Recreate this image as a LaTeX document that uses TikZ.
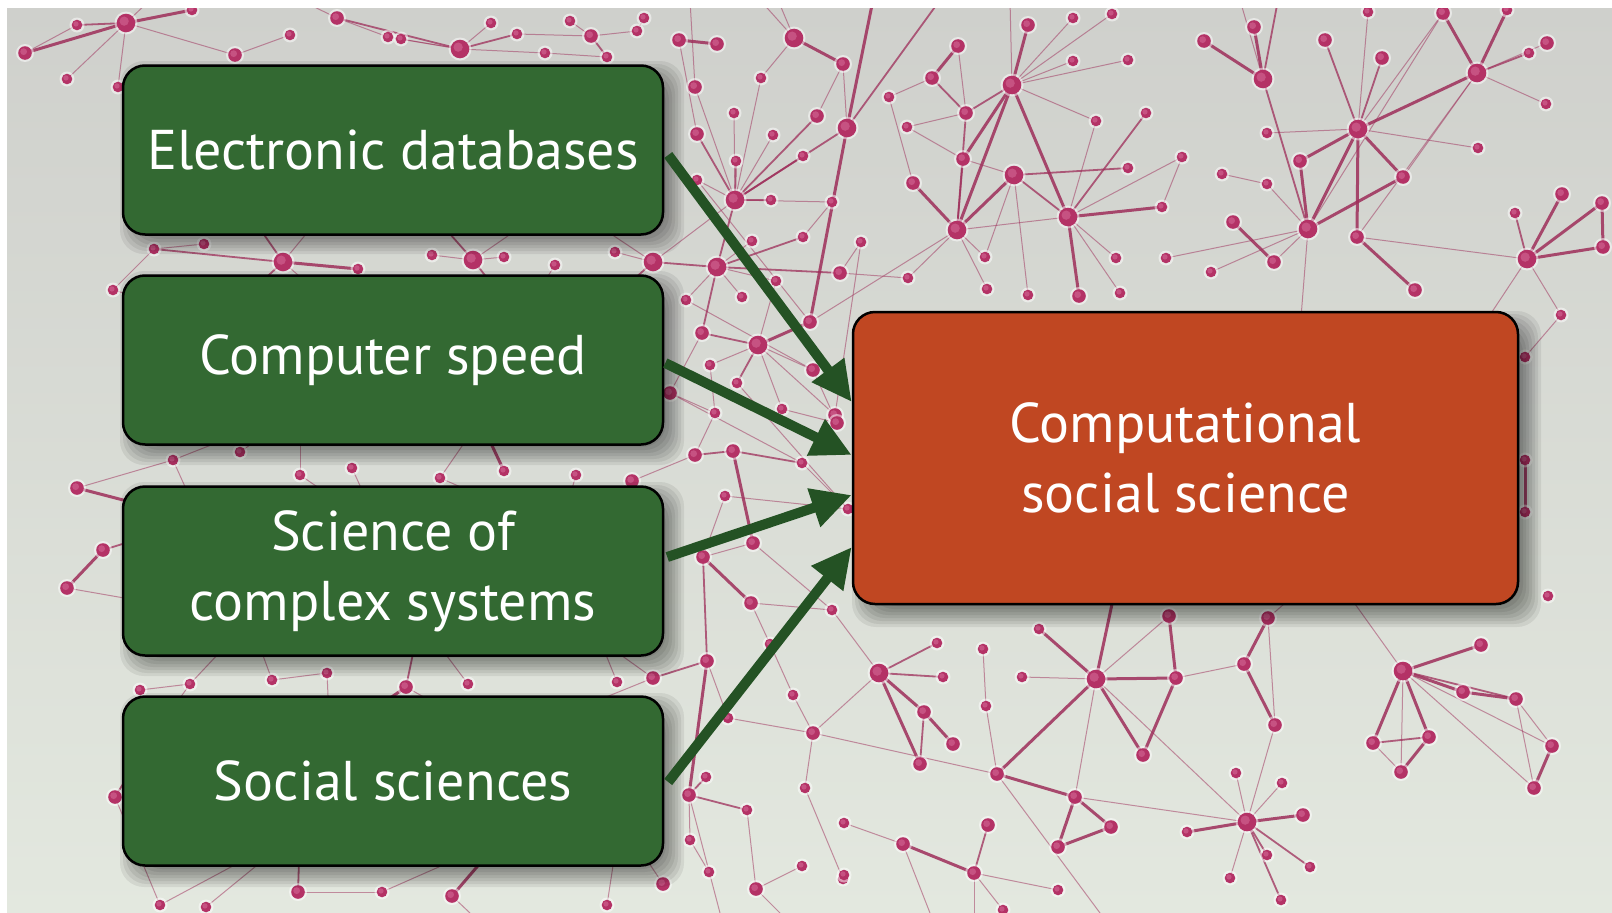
\documentclass[tikz,border=0pt]{standalone}
\usepackage{fontspec}
\setmainfont{PT Sans}
\usetikzlibrary{arrows.meta}

\definecolor{bgtop}{RGB}{207,208,204}
\definecolor{bgbot}{RGB}{227,232,223}
\definecolor{netedge}{RGB}{158,46,90}
\definecolor{netdot}{RGB}{180,50,102}
\definecolor{netdotlight}{RGB}{206,96,142}
\definecolor{boxgreen}{RGB}{51,105,50}
\definecolor{boxorange}{RGB}{192,71,34}
\definecolor{arrowgreen}{RGB}{36,82,36}

\newcommand\boxfont{\fontsize{56}{70}\selectfont}

% soft drop shadow under a rounded box: corners (#1,#2)-(#3,#4), offset #5
\newcommand\castshadow[5]{%
  \foreach \k in {-12,-9,...,12}{%
    \fill[black,opacity=0.07,rounded corners=24pt]
      ({#1+#5+\k},{#2+#5+\k}) rectangle ({#3+#5-\k},{#4+#5-\k});}}

% network dots: name/x/y/size class
\def\netnodes{
a1/126/23/3, a2/77/25/1, a3/25/53/2, a4/67/79/1, a5/118/87/1, a6/192/10/1, a7/235/55/2, a8/290/35/1, a9/337/18/2, a10/388/37/1, a11/460/49/3, a12/401/39/1, a13/517/34/1, a14/545/53/1, a15/591/36/2, a16/607/57/1, a17/637/31/1, a18/679/40/2, a19/717/44/2, a20/570/21/1, a21/491/23/1, a22/644/18/1,
b1/154/249/1, b2/204/244/1, b3/283/262/3, b4/358/269/1, b5/432/255/1, b6/473/260/3, b7/504/257/1, b8/555/265/1, b9/615/252/1, b10/653/262/3, b11/113/290/1,
c1/173/460/1, c2/77/488/2, c3/300/475/1, c4/352/468/1, c5/440/478/1, c6/504/471/1, c7/576/475/1, c8/632/481/2, c9/240/452/1,
d1/103/550/2, d2/67/588/2,
e1/190/684/1, e2/272/680/1, e3/327/673/1, e4/406/687/2, e5/468/684/1, e6/617/682/1, e7/653/678/2, e8/140/690/1,
f1/115/797/2,
g1/206/907/1, g2/298/892/2, g3/382/892/1, g4/452/896/2, g5/607/905/1, g6/663/884/2, g7/160/905/1,
r1/695/87/2, r2/761/78/1, r3/734/113/1, r4/697/134/2, r5/773/135/1, r6/817/116/2, r7/803/156/1, r8/736/161/1, r9/847/128/3, r10/843/64/2, r11/794/38/3, r12/735/200/3, r13/771/200/1, r14/832/202/1, r15/697/180/1, r17/717/267/3, r18/752/241/1, r19/803/237/1, r20/861/242/1, r21/840/273/2, r22/776/281/1, r23/742/297/1, r24/686/300/1, r25/908/278/1, r26/810/322/2, r27/702/333/2, r28/758/345/3, r29/710/365/1, r30/813/370/2, r31/737/383/1, r32/670/393/2, r33/715/413/1, r34/782/409/1, r35/835/415/2, r36/695/455/2, r37/733/451/2, r38/802/463/1, r39/837/423/2, r40/725/496/1, r41/848/509/1, r42/753/543/2, r43/703/557/2, r44/751/603/2, r45/832/610/1, r46/707/661/2, r48/770/644/1, r49/793/695/1, r50/728/718/1, r51/813/733/2, r52/706/777/1, r53/689/795/2, r54/805/788/1, r55/747/810/1, r56/709/872/1, r57/756/889/2, r58/802/866/1, r59/843/879/1, r60/690/840/1,
s1/889/97/1, s2/907/127/1, s3/913/183/2, s4/932/78/2, s5/958/46/2, s6/966/113/2, s7/963/159/2, s8/957/230/3, s9/1012/85/3, s10/1028/25/2, s11/1073/18/1, s12/1112/14/1, s13/1073/61/1, s14/1128/60/1, s15/1096/121/1, s16/1146/113/1, s17/1014/175/3, s18/1128/168/1, s19/1068/217/3, s20/1162/207/1, s21/985/257/1, s22/1116/258/1, s23/987/289/1, s24/1028/295/1, s25/1079/296/2, s26/1120/293/1, s27/1182/157/1,
q1/1254/27/2, q2/1263/79/3, q3/1204/41/2, q4/1267/133/1, q5/1358/129/3, q6/1325/40/2, q7/1382/58/2, q8/1368/12/1, q9/1443/13/2, q10/1477/73/3, q11/1507/10/1, q12/1529/53/1, q13/1547/43/2, q14/1546/104/1, q15/1478/148/1, q16/1300/161/2, q17/1403/177/2, q18/1222/174/1, q19/1267/184/1, q20/1308/229/3, q21/1357/237/2, q22/1233/222/2, q23/1274/262/2, q24/1166/258/1, q25/1211/272/1, q26/1415/290/2, q27/1527/259/3, q28/1515/213/1, q29/1562/194/2, q30/1602/203/2, q31/1603/247/2, q32/1561/315/1,
p1/1525/357/1, p2/1525/460/1, p3/1525/512/1, p4/1548/596/1,
v1/879/673/3, v2/937/643/1, v3/943/677/1, v4/924/712/2, v5/953/744/2, v6/920/764/2, v7/983/649/1, v8/986/706/1, v9/997/774/2, v10/1039/629/1, v11/1096/679/3, v12/1022/677/1, v13/1169/616/2, v14/1176/678/2, v15/1244/664/2, v16/1143/755/2, v17/1075/797/2, v18/1111/827/2, v19/1058/847/2, v20/1236/773/1, v21/1247/822/3, v22/1187/832/1, v23/1230/878/1, v24/844/823/1, v25/903/844/2, v26/988/825/2, v27/974/873/2, v28/1058/890/1, v29/844/875/1, v30/1003/910/1,
w1/1268/618/2, w2/1275/725/2, w3/1403/671/3, w4/1481/645/2, w5/1463/692/2, w6/1516/699/2, w7/1552/746/2, w8/1534/788/2, w9/1373/743/2, w10/1429/737/2, w11/1401/772/2, w12/1282/783/1, w13/1303/815/2, w14/1267/855/1, w15/1310/867/1, w16/1281/900/1}

% end points hidden under the boxes or outside the frame
\def\netanchors{
u1/240/200, u2/330/205, u3/220/320, u4/350/320, u5/420/200, u6/520/320, u7/560/200, u8/600/310, u9/150/200, u10/300/410, u11/200/520, u12/380/530, u13/480/420, u14/560/530, u15/250/620, u16/420/620, u17/150/740, u18/330/740, u19/500/740, u20/600/640, u21/300/830, u22/500/840, u23/620/820,
o1/1115/590, o2/1345/590, o3/1300/590, o4/1300/330, o5/1480/330,
t1/760/0, t2/690/0, t3/873/0, t4/940/0, t5/1010/0, t6/1240/0, t7/1278/0, t8/150/0, t9/300/0, t10/778/0,
bt1/1100/913, bt2/974/913, bt3/930/913, bt4/470/913, bt5/720/913, bt6/780/913}

\def\edgesthick{a1/a3, a1/a6, a18/a19, r11/r10, r9/t3, r9/r26, r28/r26, r37/r42, r43/r44, r46/r53, s3/s8, s4/s5, s7/s9, s8/s9, s8/s17, s9/s10, s9/s19, s19/s25, s19/s20, q2/q1, q2/q3, q5/q16, q5/q10, q5/q17, q5/q20, q5/q21, q9/q10, q10/q11, q17/q20, q22/q23, q21/q26, q27/q29, q27/q30, q27/q31, q30/q31, q16/q20, p2/p3, v1/v4, v1/v6, v4/v5, v10/v11, v11/v14, v11/o1, v11/v16, v11/v9, v13/v14, v14/v16, v9/v17, v17/v18, v17/v19, v19/v18, v25/v27, w1/v15, v15/w2, w3/w4, w3/w5, w5/w6, w3/w9, w3/w10, w10/w11, w7/w8, v21/v22, v21/w13, b3/b4, c6/u13, d1/d2, e4/u18, g4/u22, c2/u11}

\def\edgesmed{a1/a2, a9/a11, a11/a13, a15/a16, r9/t4, r9/r12, r12/r4, r12/r8, r12/r7, r12/r6, r12/r13, r12/r17, r17/b10, r17/r19, r17/r21, r17/r27, r28/r27, r28/r31, r36/r37, r37/r38, r43/r46, r46/e7, r52/r53, r53/r55, s4/s6, s6/s9, s6/s8, s7/s8, s17/s18, s17/s19, s19/s16, q2/t7, q2/q20, q6/q5, q7/q5, q10/q12, q27/q28, v1/v2, v1/v3, v4/v6, v26/v27, w3/w6, w9/w10, v21/w14, v21/w15, v21/w16, b3/b1, b3/u1, b3/u3, b6/u5, b6/u6, b10/u8, d1/u11, e4/u16, f1/u17, g2/u21}

\def\edgesthin{a1/a4, a1/a5, a1/a7, a7/a8, a9/a10, a10/a11, a11/a12, a11/a14, a11/a21, a13/a15, a15/a17, a15/a20, a17/a22, a16/a14, a1/t8, a9/t9, r11/t1, r11/t10, r1/r12, r1/t2, r9/r10, r12/r3, r12/r5, r12/r2, r12/r15, r12/b10, r12/r14, r17/r18, r17/r23, r17/r24, r17/r22, r21/r20, r21/r25, r19/r14, r28/r29, r28/r30, r28/r34, r28/r22, r28/r35, r27/r32, r29/r33, r32/r33, r33/r36, r40/r43, r42/r43, r44/r48, r44/r45, r46/r50, r50/r51, r51/r49, r51/v1, r48/r49, r55/r57, r53/r60, r60/r56, r57/r58, r54/r59, r51/r54, r32/r38, r24/r30, r15/r26, r31/r41, r34/r39, r36/c8, r40/r41, r42/r45, r53/bt5, r57/bt6, r4/a18, r2/r11, r6/r10, r30/r39, r38/r41, r35/r20, s1/s3, s2/s7, s8/s19, s8/s21, s8/r25, s8/r26, s9/s11, s9/s12, s9/s13, s9/s14, s9/s15, s9/t5, s17/s7, s17/s21, s17/s24, s19/s22, s19/s15, s19/s27, s5/s6, s8/s23, s19/s26, s1/s4, s2/s6, q2/t6, q8/q5, q5/q4, q5/q15, q5/q9, q10/q13, q10/q14, q10/q17, q10/q21, q9/q20, q18/q19, q19/q20, q20/q23, q20/q25, q20/q24, q21/q27, q27/q32, q27/o5, q20/o4, s27/s20, p1/q32, v1/r45, v7/v8, v8/v9, v12/v11, v11/v13, v11/v17, v11/v21, v14/v15, r51/v9, v17/v21, v9/bt1, v27/v28, v27/bt2, v25/bt3, v24/v25, v30/v27, v20/v21, v21/w12, v21/v23, w1/w2, w1/o3, w2/v21, w3/o2, w3/w11, w3/w7, w3/w8, w6/w7, w6/w8, w9/w11, b1/b2, b3/u2, b3/u4, b6/b5, b6/b7, b6/u7, b8/u6, b9/b10, b10/u7, b11/u3, b11/b1, c1/u10, c1/u11, c3/u10, c3/u12, c4/u12, c5/u13, c5/u14, c7/u14, c8/u14, c9/u10, c2/c1, d2/u15, e1/u15, e1/u17, e2/u15, e3/u18, e4/u19, e5/u16, e6/u20, e7/u20, e7/u19, e8/e1, e2/e3, g1/u21, g2/g3, g3/u22, g5/u23, g6/u23, g7/u21, g4/bt4, a3/a2, f1/g7}

\tikzset{
  netthick/.style={draw=netedge, line width=3pt, opacity=0.85},
  netmed/.style={draw=netedge, line width=1.8pt, opacity=0.75},
  netthin/.style={draw=netedge, line width=1pt, opacity=0.5},
  gbox/.style={rectangle, rounded corners=22pt, draw=black, line width=2.5pt,
    fill=boxgreen, text=white, align=center, font=\boxfont,
    minimum width=540pt, minimum height=169pt, inner sep=0pt},
  obox/.style={gbox, fill=boxorange, minimum width=665pt, minimum height=292pt},
  link/.style={draw=arrowgreen, line width=10pt, -{Triangle[length=40pt,width=38pt]}}
}

\begin{document}
\begin{tikzpicture}[x=1pt,y=-1pt]
\useasboundingbox (0,0) rectangle (1612,913);
\fill[white] (0,0) rectangle (1612,913);
\shade[top color=bgtop, bottom color=bgbot] (7,8) rectangle (1612,913);

% background network
\begin{scope}
  \clip (7,8) rectangle (1612,913);
  \foreach \n/\x/\y/\s in \netnodes {\coordinate (\n) at (\x,\y);}
  \foreach \n/\x/\y in \netanchors {\coordinate (\n) at (\x,\y);}
  \foreach \a/\b in \edgesthin {\draw[netthin] (\a) -- (\b);}
  \foreach \a/\b in \edgesmed {\draw[netmed] (\a) -- (\b);}
  \foreach \a/\b in \edgesthick {\draw[netthick] (\a) -- (\b);}
  \foreach \n/\x/\y/\s in \netnodes {
    \pgfmathsetmacro\rr{\s==1 ? 5.3 : (\s==2 ? 6.8 : 9.3)}
    \fill[white,opacity=0.5] (\x,\y) circle[radius=\rr+2.2];
    \fill[netdot] (\x,\y) circle[radius=\rr];
    \fill[netdotlight,opacity=0.7] ({\x-0.2*\rr},{\y-0.2*\rr}) circle[radius=0.5*\rr];
  }
\end{scope}

% shadows of the boxes
\castshadow{123}{64}{663}{233}{9}
\castshadow{123}{274}{663}{444}{9}
\castshadow{123}{485}{663}{655}{9}
\castshadow{123}{696}{663}{866}{9}
\castshadow{853}{312}{1518}{604}{11}

% boxes
\node[gbox] (elec) at (393,150) {Electronic databases};
\node[gbox] (speed) at (393,360) {Computer speed};
\node[gbox] (cplx) at (393,571) {Science of\\complex systems};
\node[gbox] (socsci) at (393,781) {Social sciences};
\node[obox] (css) at (1185.5,458) {Computational\\social science};

% arrows
\draw[link] ([xshift=4pt,yshift=-5pt]elec.east) -- ([yshift=56pt]css.west);
\draw[link] ([xshift=1pt,yshift=-3pt]speed.east) -- ([yshift=3pt]css.west);
\draw[link] ([xshift=3pt,yshift=14pt]cplx.east) -- ([yshift=-37pt]css.west);
\draw[link] ([xshift=4pt,yshift=-1pt]socsci.east) -- ([yshift=-89pt]css.west);
\end{tikzpicture}
\end{document}
